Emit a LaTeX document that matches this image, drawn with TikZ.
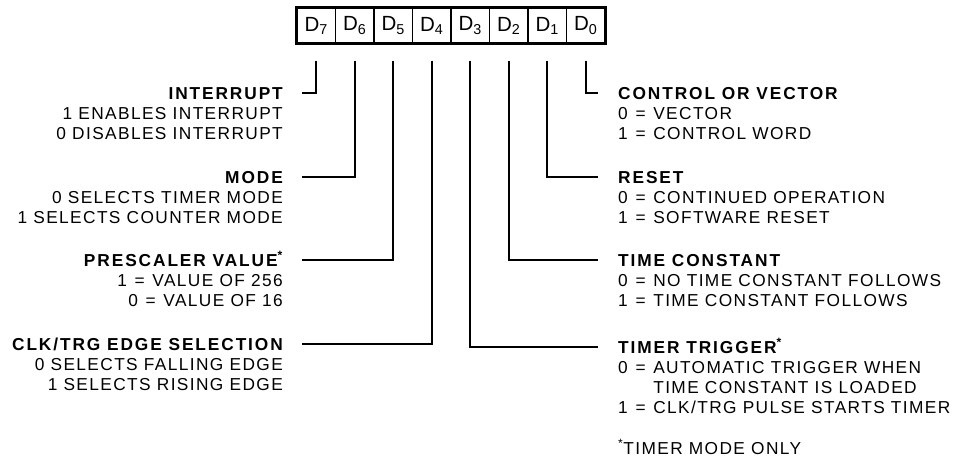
\documentclass[tikz,border=0pt]{standalone}
\usepackage{fontspec}
\setmainfont{Liberation Sans}
\newfontfamily\txtfont[LetterSpace=8]{Liberation Sans}
\newfontfamily\hdfont[LetterSpace=11]{Liberation Sans}
\newcommand{\eqs}{\space\hspace{1.5pt}=\hspace{1.5pt}\space}
\begin{document}
\begin{tikzpicture}[x=1pt,y=-1pt,
  cell/.style={draw, line width=1.3pt, minimum width=38.5pt, minimum height=35pt, inner sep=0pt,
    font=\fontsize{20.5}{20.5}\selectfont},
  lead/.style={line width=1.6pt},
  ttl/.style={inner sep=0pt, text height=12.3pt, text depth=0pt, font=\hdfont\bfseries\fontsize{17.3}{20}\selectfont},
  body/.style={inner sep=0pt, font=\txtfont\fontsize{17.3}{20}\selectfont},
]
\useasboundingbox (0,0) rectangle (970,456);
\node[cell] (d7) at (316.25,25.5) {D\textsubscript{7}};
\node[cell] (d6) at (354.75,25.5) {D\textsubscript{6}};
\node[cell] (d5) at (393.25,25.5) {D\textsubscript{5}};
\node[cell] (d4) at (431.75,25.5) {D\textsubscript{4}};
\node[cell] (d3) at (470.25,25.5) {D\textsubscript{3}};
\node[cell] (d2) at (508.75,25.5) {D\textsubscript{2}};
\node[cell] (d1) at (547.25,25.5) {D\textsubscript{1}};
\node[cell] (d0) at (585.75,25.5) {D\textsubscript{0}};
\draw[line width=2.2pt] (d7.north west) rectangle (d0.south east);

% left titles
\node[ttl, anchor=east] (tint) at (283,93) {INTERRUPT};
\node[ttl, anchor=east] (tmode) at (283,177) {MODE};
\node[ttl, anchor=east] (tpre) at (283,260) {PRESCALER VALUE\textsuperscript{*}};
\node[ttl, anchor=east] (tclk) at (283,344) {CLK/TRG EDGE SELECTION};
% right titles
\node[ttl, anchor=west] (tcv) at (618,93) {CONTROL OR VECTOR};
\node[ttl, anchor=west] (trst) at (618,177) {RESET};
\node[ttl, anchor=west] (ttc) at (618,260) {TIME CONSTANT};
\node[ttl, anchor=west] (ttt) at (618,347) {TIMER TRIGGER\textsuperscript{*}};

% bodies
\node[body, anchor=north east, align=right] (bint) at ([yshift=-8pt]tint.south east) {1 ENABLES INTERRUPT\\0 DISABLES INTERRUPT};
\node[body, anchor=north east, align=right] (bmode) at ([yshift=-8pt]tmode.south east) {0 SELECTS TIMER MODE\\1 SELECTS COUNTER MODE};
\node[body, anchor=north east, align=right] (bpre) at ([yshift=-8pt]tpre.south east) {1\eqs VALUE OF 256\\0\eqs VALUE OF 16};
\node[body, anchor=north east, align=right] (bclk) at ([yshift=-8pt]tclk.south east) {0 SELECTS FALLING EDGE\\1 SELECTS RISING EDGE};
\node[body, anchor=north west, align=left] (bcv) at ([yshift=-8pt]tcv.south west) {0\eqs VECTOR\\1\eqs CONTROL WORD};
\node[body, anchor=north west, align=left] (brst) at ([yshift=-8pt]trst.south west) {0\eqs CONTINUED OPERATION\\1\eqs SOFTWARE RESET};
\node[body, anchor=north west, align=left] (btc) at ([yshift=-8pt]ttc.south west) {0\eqs NO TIME CONSTANT FOLLOWS\\1\eqs TIME CONSTANT FOLLOWS};
\node[body, anchor=north west, align=left] (btt) at ([yshift=-8pt]ttt.south west) {0\eqs AUTOMATIC TRIGGER WHEN\\\phantom{0\eqs}TIME CONSTANT IS LOADED\\1\eqs CLK/TRG PULSE STARTS TIMER};
\node[body, anchor=west] (fn) at (618,447) {\textsuperscript{*}TIMER MODE ONLY};

% leaders
\draw[lead, shorten <=17pt, shorten >=19pt] (d7.south) |- (tint.east);
\draw[lead, shorten <=17pt, shorten >=19pt] (d6.south) |- (tmode.east);
\draw[lead, shorten <=17pt, shorten >=19pt] (d5.south) |- (tpre.east);
\draw[lead, shorten <=17pt, shorten >=19pt] (d4.south) |- (tclk.east);
\draw[lead, shorten <=17pt, shorten >=20pt] (d0.south) |- (tcv.west);
\draw[lead, shorten <=17pt, shorten >=20pt] (d1.south) |- (trst.west);
\draw[lead, shorten <=17pt, shorten >=20pt] (d2.south) |- (ttc.west);
\draw[lead, shorten <=17pt, shorten >=20pt] (d3.south) |- (ttt.west);
\end{tikzpicture}
\end{document}
